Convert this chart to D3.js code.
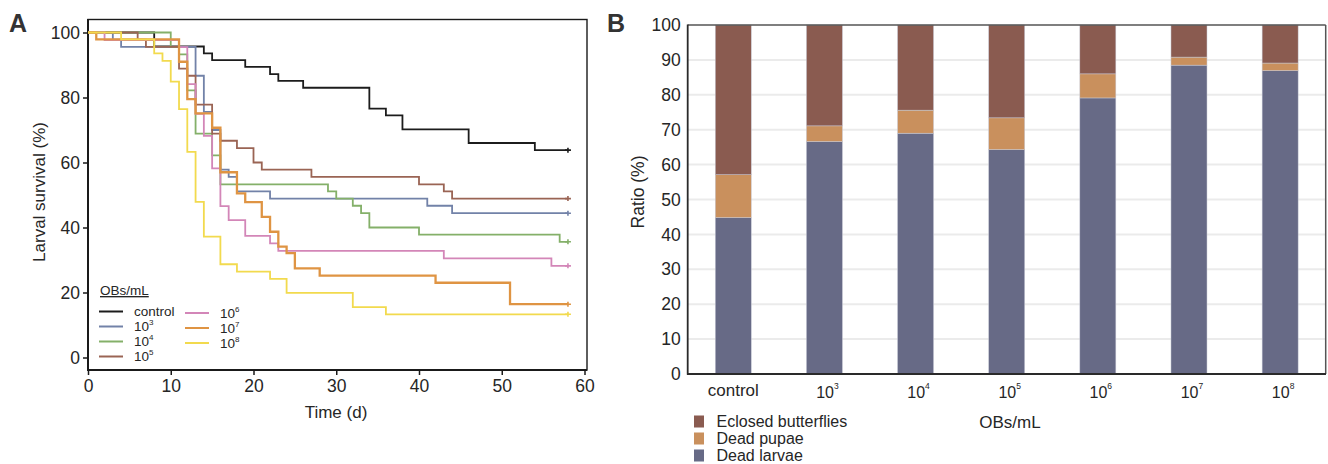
<!DOCTYPE html>
<html>
<head>
<meta charset="utf-8">
<script src="https://cdn.jsdelivr.net/npm/d3@7"></script>
<style>
  body { margin: 0; background: #fff; }
  svg { font-family: "Liberation Sans", Arial, sans-serif; }
</style>
</head>
<body>
<svg id="chart" width="1328" height="464"></svg>
<script>
// ---- Panel A: Kaplan-Meier curves (day of event, survival %) ----
var controlT = [0, 8, 14, 15, 19, 22, 23, 26, 34, 36, 38, 46, 54];
var controlS = [100, 95.7, 93.6, 91.5, 89.4, 87.2, 85.1, 83.0, 76.6, 74.5, 70.2, 66.0, 63.8];
var d3T = [0, 3, 4, 13, 14, 15, 16, 17, 18, 22, 41, 44];
var d3S = [100, 97.8, 95.6, 86.7, 75.6, 70.0, 57.8, 55.6, 51.1, 48.9, 46.7, 44.4];
var d4T = [0, 10, 11, 12, 13, 15, 16, 29, 30, 32, 33, 34, 40, 57];
var d4S = [100, 95.6, 93.3, 82.2, 68.9, 62.2, 53.3, 51.1, 48.9, 46.7, 44.4, 40.0, 37.8, 35.6];
var d5T = [0, 6, 7, 11, 12, 13, 15, 16, 18, 20, 21, 27, 40, 43, 44];
var d5S = [100, 97.8, 95.6, 88.9, 86.7, 77.8, 68.9, 66.7, 64.4, 60.0, 57.8, 55.6, 53.3, 51.1, 48.9];
var d6T = [0, 2, 11, 12, 13, 14, 15, 16, 17, 19, 22, 23, 43, 56];
var d6S = [100, 97.7, 95.5, 84.1, 75.0, 68.2, 58.2, 46.6, 42.3, 37.4, 35.1, 32.8, 30.5, 28.2];
var d7T = [0, 1, 11, 12, 13, 15, 16, 18, 19, 21, 22, 23, 24, 25, 28, 42, 51];
var d7S = [100, 97.9, 91.0, 79.5, 75.1, 70.7, 57.0, 50.5, 47.8, 43.3, 38.7, 34.1, 32.1, 27.4, 25.2, 23.0, 16.4];
var d8T = [0, 4, 8, 9, 10, 11, 12, 13, 14, 16, 18, 22, 24, 32, 36];
var d8S = [100, 97.9, 93.6, 91.3, 84.9, 76.4, 63.3, 47.9, 37.2, 28.7, 26.4, 24.2, 19.9, 15.5, 13.3];
var endDay = 58;

var groupNames = ["control", "3", "4", "5", "6", "7", "8"];
var groupColors = ["#1c1c1c", "#7282a8", "#84b069", "#9a6454", "#d386b8", "#df9443", "#f2da4e"];
var xTicksA = [0, 10, 20, 30, 40, 50, 60];
var yTicksA = [0, 20, 40, 60, 80, 100];

// ---- Panel B: outcome ratios (%) ----
var doses = ["control", "3", "4", "5", "6", "7", "8"];
var deadLarvae = [44.8, 66.6, 69.0, 64.3, 79.1, 88.5, 86.9];
var deadPupae = [12.3, 4.5, 6.6, 9.1, 6.9, 2.3, 2.2];
var eclosed = [42.9, 28.9, 24.4, 26.6, 14.0, 9.2, 10.9];
var outcomeNames = ["Eclosed butterflies", "Dead pupae", "Dead larvae"];
var outcomeColors = ["#8a5b50", "#c9905d", "#676a86"];
var yTicksB = [0, 10, 20, 30, 40, 50, 60, 70, 80, 90, 100];

var svg = d3.select("#chart");
var txt = "#262626";

// superscript label helper: "10" + small exponent
function powLabel(sel, exp, small, dy) {
	if (exp === "control") { sel.text("control"); return; }
	sel.append("tspan").text("10");
	sel.append("tspan").attr("dy", dy).attr("font-size", small).text(exp);
}

// ================= Panel A =================
var xA = d3.scaleLinear().domain([0, 60]).range([88, 584.5]);
var yA = d3.scaleLinear().domain([0, 100]).range([357.5, 32.5]);
var gA = svg.append("g");

// frame
gA.append("rect").attr("x", 88).attr("y", 19.5).attr("width", 499).attr("height", 350.5)
	.attr("fill", "none").attr("stroke", "#1a1a1a").attr("stroke-width", 1.4);
gA.append("line").attr("x1", 88).attr("x2", 88).attr("y1", 19).attr("y2", 370.5)
	.attr("stroke", "#1a1a1a").attr("stroke-width", 2);
gA.append("line").attr("x1", 87).attr("x2", 587).attr("y1", 370).attr("y2", 370)
	.attr("stroke", "#1a1a1a").attr("stroke-width", 2);

// y axis
var yAxisA = gA.append("g").attr("transform", "translate(88,0)")
	.call(d3.axisLeft(yA).tickValues(yTicksA).tickSize(5).tickPadding(3));
yAxisA.select(".domain").remove();
yAxisA.selectAll("line").attr("stroke", "#1a1a1a").attr("stroke-width", 1.5);
yAxisA.selectAll("text").attr("font-size", 17.5).attr("fill", txt).attr("font-family", null);

// x axis
var xAxisA = gA.append("g").attr("transform", "translate(0,370)")
	.call(d3.axisBottom(xA).tickValues(xTicksA).tickSize(5).tickPadding(5));
xAxisA.select(".domain").remove();
xAxisA.selectAll("line").attr("stroke", "#1a1a1a").attr("stroke-width", 1.5);
xAxisA.selectAll("text").attr("font-size", 17.5).attr("fill", txt).attr("font-family", null);

gA.append("text").attr("x", 336).attr("y", 418).attr("text-anchor", "middle")
	.attr("font-size", 17).attr("fill", txt).text("Time (d)");
gA.append("text").attr("transform", "translate(45,192) rotate(-90)").attr("text-anchor", "middle")
	.attr("font-size", 17).attr("fill", txt).text("Larval survival (%)");
gA.append("text").attr("x", 9).attr("y", 32).attr("font-size", 25).attr("font-weight", "bold")
	.attr("fill", "#333").text("A");

var series = [
	{ T: controlT, S: controlS },
	{ T: d3T, S: d3S },
	{ T: d4T, S: d4S },
	{ T: d5T, S: d5S },
	{ T: d6T, S: d6S },
	{ T: d7T, S: d7S },
	{ T: d8T, S: d8S }
].map(function(s, i) {
	var pts = s.T.map(function(t, j) { return [t, s.S[j]]; });
	pts.push([endDay, s.S[s.S.length - 1]]);
	return { name: groupNames[i], color: groupColors[i], pts: pts };
});

var stepLine = d3.line()
	.x(function(d) { return xA(d[0]); })
	.y(function(d) { return yA(d[1]); })
	.curve(d3.curveStepAfter);

series.forEach(function(s) {
	gA.append("path").attr("d", stepLine(s.pts)).attr("fill", "none")
		.attr("stroke", s.color).attr("stroke-width", s.name === "7" ? 2.3 : 1.8);
	var last = s.pts[s.pts.length - 1];
	var cx = xA(last[0]), cy = yA(last[1]);
	gA.append("path").attr("d", "M" + (cx - 3) + "," + cy + "H" + (cx + 3) + "M" + cx + "," + (cy - 2.5) + "V" + (cy + 2.5))
		.attr("stroke", s.color).attr("stroke-width", 1.6).attr("fill", "none");
});

// legend A
var legA = gA.append("g");
legA.append("text").attr("x", 100).attr("y", 295).attr("font-size", 13.5).attr("fill", txt)
	.attr("text-decoration", "underline").text("OBs/mL");
series.forEach(function(s, i) {
	var col = i < 4 ? 0 : 1;
	var row = i < 4 ? i : i - 4;
	var lx = col === 0 ? 99 : 185;
	var ly = (col === 0 ? 311.5 : 313) + row * 15;
	legA.append("line").attr("x1", lx).attr("x2", lx + 24).attr("y1", ly).attr("y2", ly)
		.attr("stroke", s.color).attr("stroke-width", 2);
	var t = legA.append("text").attr("x", lx + 35).attr("y", ly + 4.5).attr("font-size", 13.5).attr("fill", txt);
	powLabel(t, s.name, 8, -6);
});

// ================= Panel B =================
var xB = d3.scaleBand().domain(doses).range([687.7, 1325.7]).paddingInner(0.605).paddingOuter(0.3025);
var yB = d3.scaleLinear().domain([0, 100]).range([374, 25]);
var gB = svg.append("g");

gB.selectAll(".grid").data(yTicksB.slice(1, -1)).enter().append("line")
	.attr("x1", 688).attr("x2", 1325).attr("y1", function(d) { return yB(d); }).attr("y2", function(d) { return yB(d); })
	.attr("stroke", "#ebebeb").attr("stroke-width", 2);

var rows = doses.map(function(d, i) {
	return { dose: d, larvae: deadLarvae[i], pupae: deadPupae[i], eclosed: eclosed[i] };
});
var stacked = d3.stack().keys(["larvae", "pupae", "eclosed"])(rows);
var stackColors = [outcomeColors[2], outcomeColors[1], outcomeColors[0]];

stacked.forEach(function(layer, k) {
	gB.selectAll(".bar" + k).data(layer).enter().append("rect")
		.attr("x", function(d) { return xB(d.data.dose); })
		.attr("width", xB.bandwidth())
		.attr("y", function(d) { return yB(Math.min(d[1], 100)); })
		.attr("height", function(d) { return yB(d[0]) - yB(Math.min(d[1], 100)); })
		.attr("fill", stackColors[k])
		.attr("stroke", "#c8cad6").attr("stroke-width", 0.5);
});

// frame B
gB.append("line").attr("x1", 687.7).attr("x2", 1325.7).attr("y1", 25).attr("y2", 25).attr("stroke", "#555").attr("stroke-width", 1.5);
gB.append("line").attr("x1", 1325.7).attr("x2", 1325.7).attr("y1", 25).attr("y2", 374).attr("stroke", "#555").attr("stroke-width", 1.5);
gB.append("line").attr("x1", 687.7).attr("x2", 687.7).attr("y1", 24.5).attr("y2", 374.8).attr("stroke", "#2a2a2a").attr("stroke-width", 1.8);
gB.append("line").attr("x1", 687).attr("x2", 1326).attr("y1", 374).attr("y2", 374).attr("stroke", "#2a2a2a").attr("stroke-width", 1.8);

var yAxisB = gB.append("g").attr("transform", "translate(687.7,0)")
	.call(d3.axisLeft(yB).tickValues(yTicksB).tickSize(0).tickPadding(7));
yAxisB.select(".domain").remove();
yAxisB.selectAll("text").attr("font-size", 17.5).attr("fill", txt).attr("font-family", null);

doses.forEach(function(d) {
	var t = gB.append("text").attr("x", xB(d) + xB.bandwidth() / 2 + (d === "control" ? 0 : 3))
		.attr("y", d === "control" ? 396 : 398).attr("text-anchor", "middle")
		.attr("font-size", d === "control" ? 17 : 16).attr("fill", txt);
	powLabel(t, d, 8.5, -9);
});

gB.append("text").attr("x", 1010).attr("y", 428).attr("text-anchor", "middle")
	.attr("font-size", 17).attr("fill", txt).text("OBs/mL");
gB.append("text").attr("transform", "translate(644,192) rotate(-90)").attr("text-anchor", "middle")
	.attr("font-size", 17.5).attr("fill", txt).text("Ratio (%)");
gB.append("text").attr("x", 607).attr("y", 32).attr("font-size", 25).attr("font-weight", "bold")
	.attr("fill", "#333").text("B");

// legend B
outcomeNames.forEach(function(n, i) {
	var cy = 421.5 + i * 17;
	gB.append("rect").attr("x", 694).attr("y", cy - 6).attr("width", 10).attr("height", 12).attr("fill", outcomeColors[i]);
	gB.append("text").attr("x", 716.5).attr("y", cy + 5.5).attr("font-size", 16).attr("fill", txt).text(n);
});
</script>
</body>
</html>
